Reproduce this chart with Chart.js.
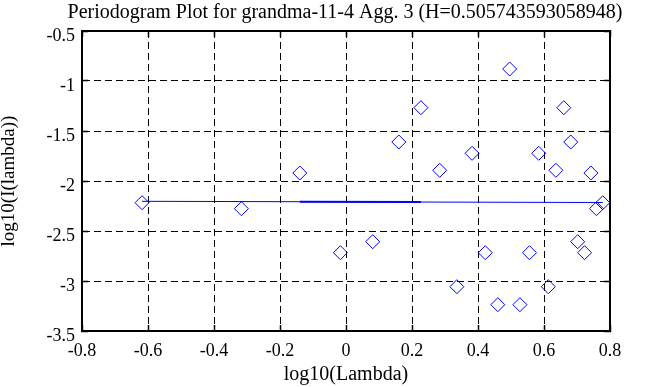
<!DOCTYPE html>
<html>
<head>
<meta charset="utf-8">
<script src="https://cdn.jsdelivr.net/npm/chart.js@4.4.0/dist/chart.umd.min.js"></script>
<style>
  body { margin: 0; background: #fff; }
  canvas { display: block; }
</style>
</head>
<body>
<canvas id="periodogram_chart" width="663" height="387"></canvas>
<script>
var log_lambda = [-0.618, -0.317, -0.14, -0.017, 0.081, 0.160, 0.227, 0.284, 0.336, 0.382, 0.422, 0.460, 0.496,
                  0.527, 0.556, 0.584, 0.613, 0.636, 0.660, 0.681, 0.702, 0.723, 0.742, 0.759, 0.778];
var log_periodogram = [-2.217, -2.277, -1.92, -2.717, -2.607, -1.61, -1.267, -1.893, -3.057, -1.723, -2.717, -3.237, -0.88,
                       -3.237, -2.717, -1.723, -3.057, -1.893, -1.267, -1.61, -2.607, -2.717, -1.92, -2.277, -2.217];
var fit_x = [-0.618, 0.778];
var fit_y = [-2.203, -2.215];
var fit_thick_x = [-0.14, 0.227];
var fit_thick_y = [-2.207, -2.209];
var x_ticks = [-0.8, -0.6, -0.4, -0.2, 0, 0.2, 0.4, 0.6, 0.8];
var y_ticks = [-3.5, -3, -2.5, -2, -1.5, -1, -0.5];

var ctx = document.getElementById('periodogram_chart').getContext('2d');

Chart.defaults.font.family = "'Liberation Serif', 'DejaVu Serif', serif";
Chart.defaults.color = '#000';

function pairs(xs, ys) {
  return xs.map(function(x, i) { return {x: x, y: ys[i]}; });
}

function tick_label(value) {
  return String(+value.toFixed(2));
}

function set_ticks(list) {
  return function(scale) {
    scale.ticks = list.map(function(v) { return {value: v}; });
  };
}

function fixed_size(size) {
  return function(scale) {
    if (scale.isHorizontal()) scale.height = size; else scale.width = size;
  };
}

function axis(position, list, min, max, size, main) {
  return {
    type: 'linear',
    position: position,
    min: min,
    max: max,
    afterBuildTicks: set_ticks(list),
    afterFit: fixed_size(size),
    grid: {
      display: true,
      drawOnChartArea: main,
      color: '#000',
      lineWidth: 1,
      tickLength: -6,
      tickWidth: 1.5,
      tickColor: '#000',
      tickBorderDash: []
    },
    border: { display: true, color: '#000', width: 2, dash: [7, 4] },
    ticks: {
      display: main,
      callback: tick_label,
      font: { size: 18 },
      maxRotation: 0,
      autoSkip: false
    }
  };
}

// left padding 27 keeps the title centred over the plot, so the y axis box is 55 wide
var x_main = axis('bottom', x_ticks, -0.8, 0.8, 56, true);
x_main.ticks.padding = 15;
x_main.title = { display: true, text: 'log10(Lambda)', font: { size: 20, lineHeight: 1.2 }, padding: { top: 0, bottom: 0 } };

var y_main = axis('left', y_ticks, -3.5, -0.5, 55, true);
y_main.ticks.padding = 13;
y_main.ticks.labelOffset = 5;
y_main.title = { display: true, text: 'log10(I(lambda))', font: { size: 19, lineHeight: 1 }, padding: { top: -27, bottom: 0 } };

var x_top = axis('top', x_ticks, -0.8, 0.8, 0, false);
var y_right = axis('right', y_ticks, -3.5, -0.5, 53, false);

new Chart(ctx, {
  type: 'scatter',
  data: {
    datasets: [{
      data: pairs(log_lambda, log_periodogram),
      showLine: false,
      pointStyle: 'rectRot',
      pointRadius: 7,
      pointBorderWidth: 1,
      borderColor: '#0000ff',
      backgroundColor: 'rgba(0,0,0,0)',
      xAxisID: 'x',
      yAxisID: 'y'
    }, {
      data: pairs(fit_x, fit_y),
      showLine: true,
      borderColor: '#0000ff',
      borderWidth: 1,
      pointRadius: 0,
      xAxisID: 'x',
      yAxisID: 'y'
    }, {
      data: pairs(fit_thick_x, fit_thick_y),
      showLine: true,
      borderColor: '#0000ff',
      borderWidth: 2,
      pointRadius: 0,
      xAxisID: 'x',
      yAxisID: 'y'
    }]
  },
  options: {
    responsive: false,
    animation: false,
    layout: { padding: { left: 27, top: 0, right: 0, bottom: 0 } },
    plugins: {
      legend: { display: false },
      tooltip: { enabled: false },
      title: {
        display: true,
        text: 'Periodogram Plot for grandma-11-4 Agg. 3 (H=0.505743593058948)',
        font: { size: 20, weight: 'normal' },
        color: '#000',
        padding: { top: 1, bottom: 6 }
      }
    },
    scales: {
      x: x_main,
      y: y_main,
      x_top: x_top,
      y_right: y_right
    }
  }
});
</script>
</body>
</html>
